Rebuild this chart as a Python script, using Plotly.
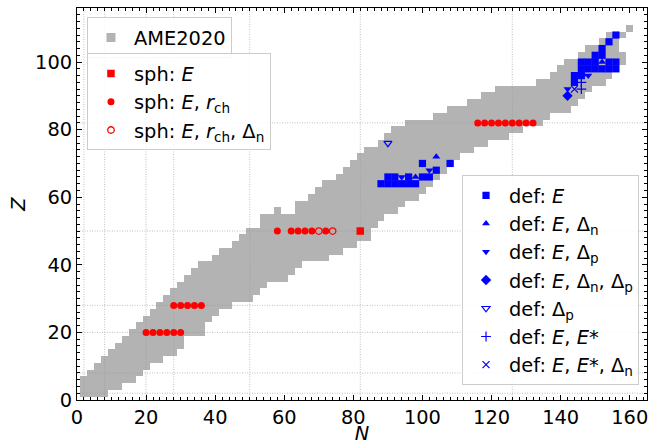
import plotly.graph_objects as go

# ---------------- data ----------------
# AME2020 even-even nuclides: for each even Z, runs of even N (first, last)
ame_Z    = [2, 4, 6, 8, 10, 12, 14, 16, 18, 20, 22, 24, 26, 28, 30, 32, 34, 36, 38, 40,
            42, 44, 46, 48, 50, 52, 54, 56, 56, 58, 60, 62, 64, 66, 68, 70, 72, 74, 76, 78, 80,
            82, 84, 86, 88, 90, 92, 94, 96, 98, 100, 102, 104, 106, 108, 110]
ame_Nmin = [2, 2, 2, 4, 6, 8, 10, 12, 14, 16, 18, 20, 22, 24, 26, 28, 30, 32, 34, 36,
            40, 42, 46, 48, 50, 54, 54, 58, 64, 64, 68, 70, 72, 76, 78, 80, 82, 84, 88, 90, 92,
            96, 104, 108, 114, 118, 122, 134, 138, 140, 142, 146, 148, 152, 154, 160]
ame_Nmax = [8, 12, 16, 18, 20, 24, 28, 30, 30, 36, 36, 38, 40, 44, 50, 52, 54, 60, 62, 64,
            72, 76, 80, 84, 84, 86, 88, 58, 92, 94, 98, 100, 102, 104, 106, 108, 110, 114, 118, 124, 128,
            134, 136, 142, 144, 146, 148, 152, 154, 156, 158, 158, 156, 156, 158, 160]

magic = [2, 8, 20, 28, 50, 82, 126]

# spherical
sphE_N = [82]
sphE_Z = [50]
sphEr_N = [20, 22, 24, 26, 28, 30, 28, 30, 32, 34, 36, 58, 62, 64, 66, 68, 72,
           116, 118, 120, 122, 124, 126, 128, 130, 132]
sphEr_Z = [20, 20, 20, 20, 20, 20, 28, 28, 28, 28, 28, 50, 50, 50, 50, 50, 50,
           82, 82, 82, 82, 82, 82, 82, 82, 82]
sphErD_N = [70, 74]
sphErD_Z = [50, 50]

# deformed
defE_N = [88, 90, 92, 94, 96, 98, 90, 92, 96, 100, 102, 104, 100, 108,
          156, 154, 152, 150, 152,
          146, 148, 150, 154, 156, 146, 148, 150, 152, 154, 156, 144, 146, 144]
defE_Z = [64, 64, 64, 64, 64, 64, 66, 66, 66, 66, 66, 68, 70, 70,
          108, 106, 104, 102, 102,
          100, 100, 100, 100, 100, 98, 98, 98, 98, 98, 98, 96, 96, 94]
defEDn_N = [98, 104, 152]
defEDn_Z = [66, 72, 100]
defEDp_N = [94, 102, 148, 142]
defEDp_Z = [66, 68, 96, 92]
defEDnDp_N = [142]
defEDnDp_Z = [90]
defDp_N = [90]
defDp_Z = [76]
defEEs_N = [146, 146, 146]
defEEs_Z = [96, 94, 92]
defEEsDn_N = [144]
defEEsDn_Z = [92]

# ---------------- styles ----------------
FONT = "DejaVu Sans"
FS = 19.4
GRAY = "#b3b3b3"
RED = "#ff0000"
BLUE = "#0000ff"
LINE = "rgba(150,150,150,0.6)"

fig = go.Figure()

# gray AME2020 rows as horizontal bars (each cell is 2x2 units)
fig.add_trace(go.Bar(
    orientation="h",
    y=ame_Z,
    base=[n - 1 for n in ame_Nmin],
    x=[b - a + 2 for a, b in zip(ame_Nmin, ame_Nmax)],
    width=2,
    marker=dict(color=GRAY, line=dict(width=0)),
    showlegend=False, hoverinfo="skip",
))

# legend entry for AME2020
fig.add_trace(go.Scatter(
    x=[None], y=[None], mode="markers", name="AME2020",
    marker=dict(symbol="square", size=9, color=GRAY),
    legend="legend",
))

# magic-number lines
for m in magic:
    fig.add_trace(go.Scatter(x=[m, m], y=[0, 116], mode="lines",
                             line=dict(color=LINE, width=1, dash="1px,1.5px"),
                             showlegend=False, hoverinfo="skip"))
    fig.add_trace(go.Scatter(x=[0, 165], y=[m, m], mode="lines",
                             line=dict(color=LINE, width=1, dash="1px,1.5px"),
                             showlegend=False, hoverinfo="skip"))


def pts(xs, ys, name, marker, legend):
    fig.add_trace(go.Scatter(x=xs, y=ys, mode="markers", name=name, marker=marker,
                             legend=legend, hoverinfo="skip"))


# spherical
pts(sphE_N, sphE_Z, "sph: <i>E</i>",
    dict(symbol="square", size=7.5, color=RED), "legend2")
pts(sphEr_N, sphEr_Z, "sph: <i>E</i>, <i>r</i><sub>ch</sub>",
    dict(symbol="circle", size=7, color=RED), "legend2")
pts(sphErD_N, sphErD_Z, "sph: <i>E</i>, <i>r</i><sub>ch</sub>, Δ<sub>n</sub>",
    dict(symbol="circle-open", size=6.5, color=RED, line=dict(width=1.3)), "legend2")

# deformed
pts(defE_N, defE_Z, "def: <i>E</i>",
    dict(symbol="square", size=7.2, color=BLUE), "legend3")
pts(defEDn_N, defEDn_Z, "def: <i>E</i>, Δ<sub>n</sub>",
    dict(symbol="triangle-up", size=7, color=BLUE), "legend3")
pts(defEDp_N, defEDp_Z, "def: <i>E</i>, Δ<sub>p</sub>",
    dict(symbol="triangle-down", size=7, color=BLUE), "legend3")
pts(defEDnDp_N, defEDnDp_Z, "def: <i>E</i>, Δ<sub>n</sub>, Δ<sub>p</sub>",
    dict(symbol="diamond", size=8, color=BLUE), "legend3")
pts(defDp_N, defDp_Z, "def: Δ<sub>p</sub>",
    dict(symbol="triangle-down-open", size=7, color=BLUE, line=dict(width=1.2)), "legend3")
pts(defEEs_N, defEEs_Z, "def: <i>E</i>, <i>E</i>*",
    dict(symbol="cross-thin", size=7, color=BLUE, line=dict(width=1.2, color=BLUE)), "legend3")
pts(defEEsDn_N, defEEsDn_Z, "def: <i>E</i>, <i>E</i>*, Δ<sub>n</sub>",
    dict(symbol="x-thin", size=7, color=BLUE, line=dict(width=1.2, color=BLUE)), "legend3")

legend_common = dict(
    bgcolor="rgba(255,255,255,0.85)", bordercolor="#cccccc", borderwidth=1,
    font=dict(family=FONT, size=FS, color="black"),
    itemwidth=36, traceorder="normal",
)

axis_common = dict(
    showgrid=False, zeroline=False,
    showline=True, linecolor="black", linewidth=1, mirror="allticks",
    ticks="inside", ticklen=5, tickwidth=1, tickcolor="black",
    dtick=20, tick0=0,
    tickfont=dict(family=FONT, size=FS, color="black"),
    minor=dict(ticks="inside", ticklen=3, dtick=2, tickcolor="black", tickwidth=0.8, showgrid=False),
)

fig.update_layout(
    width=649, height=445,
    margin=dict(l=77, r=2, t=8, b=45),
    paper_bgcolor="white", plot_bgcolor="white",
    font=dict(family=FONT, size=FS, color="black"),
    barmode="overlay", bargap=0,
    xaxis=dict(range=[0, 165], title=dict(text="<i>N</i>", font=dict(family=FONT, size=FS), standoff=0),
               **axis_common),
    yaxis=dict(range=[0, 116], title=dict(text="<i>Z</i>", font=dict(family=FONT, size=FS), standoff=4),
               **axis_common),
    legend=dict(x=0.0175, y=0.976, xanchor="left", yanchor="top", **legend_common),
    legend2=dict(x=0.0175, y=0.884, xanchor="left", yanchor="top", **legend_common),
    legend3=dict(x=0.986, y=0.5733, xanchor="right", yanchor="top", **legend_common),
)

fig.write_html("out.html")
